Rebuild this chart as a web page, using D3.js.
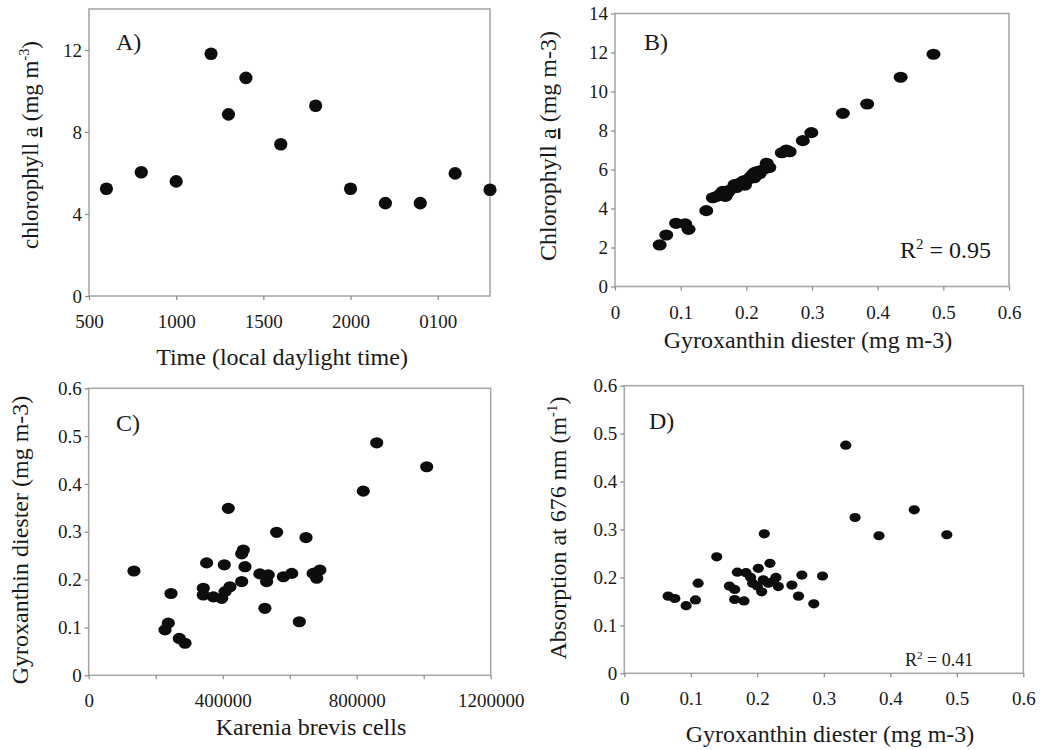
<!DOCTYPE html>
<html>
<head>
<meta charset="utf-8">
<title>Gyroxanthin panels</title>
<script src="https://cdn.jsdelivr.net/npm/d3@7"></script>
</head>
<body style="margin:0; background:#fff">
<svg id="chart" width="1041" height="750"></svg>
<script>
const FONT = '"Liberation Serif", "Times New Roman"';

// A) chlorophyll a over the day, time in hours (24+ = next day)
const timeA = [6, 8, 10, 12, 13, 14, 16, 18, 20, 22, 24, 26, 28];
const chlA = [5.23, 6.04, 5.59, 11.82, 8.86, 10.64, 7.40, 9.28, 5.23, 4.53, 4.53, 5.98, 5.18];
const timeTicks = [5, 10, 15, 20, 25];
const timeTickLabels = ["500", "1000", "1500", "2000", "0100"];
const chlTicksA = [0, 4, 8, 12];

// B) chlorophyll a vs gyroxanthin diester
const gyroB = [0.068, 0.078, 0.093, 0.107, 0.112, 0.139, 0.149, 0.155, 0.161, 0.164,
    0.168, 0.171, 0.175, 0.182, 0.185, 0.190, 0.196, 0.198, 0.203, 0.206,
    0.210, 0.212, 0.213, 0.218, 0.220, 0.227, 0.231, 0.235, 0.254, 0.261,
    0.266, 0.286, 0.299, 0.347, 0.384, 0.435, 0.485];
const chlB = [2.13, 2.64, 3.24, 3.21, 2.93, 3.89, 4.55, 4.62, 4.75, 4.88,
    4.62, 4.78, 4.95, 5.22, 5.08, 5.30, 5.42, 5.20, 5.50, 5.60,
    5.75, 5.58, 5.85, 5.90, 5.78, 6.02, 6.32, 6.10, 6.86, 7.00,
    6.91, 7.48, 7.89, 8.88, 9.36, 10.73, 11.91];
const gyroTicks = [0, 0.1, 0.2, 0.3, 0.4, 0.5, 0.6];
const gyroTickLabels = ["0", "0.1", "0.2", "0.3", "0.4", "0.5", "0.6"];
const chlTicksB = [0, 2, 4, 6, 8, 10, 12, 14];

// C) gyroxanthin diester vs Karenia brevis cells
const cellsC = [135000, 227800, 237600, 245700, 270400, 287500, 342000, 342000, 352000, 372000,
    397000, 404800, 407000, 416700, 421800, 456700, 456700, 461500, 466600, 511000,
    526000, 531000, 536000, 561000, 581000, 606000, 628700, 648700, 670000, 680600,
    690000, 819700, 859700, 1009000];
const gyroC = [0.218, 0.095, 0.109, 0.171, 0.077, 0.067, 0.182, 0.168, 0.235, 0.164,
    0.161, 0.231, 0.175, 0.349, 0.185, 0.196, 0.254, 0.262, 0.227, 0.212,
    0.140, 0.196, 0.210, 0.299, 0.206, 0.213, 0.112, 0.288, 0.213, 0.203,
    0.220, 0.385, 0.486, 0.436];
const cellTicks = [0, 200000, 400000, 600000, 800000, 1000000, 1200000];
const cellTickLabels = ["0", "", "400000", "", "800000", "", "1200000"];

// D) absorption at 676 nm vs gyroxanthin diester
const gyroD = [0.066, 0.076, 0.093, 0.107, 0.111, 0.139, 0.158, 0.166, 0.166, 0.180,
    0.170, 0.183, 0.193, 0.2015, 0.219, 0.209, 0.2066, 0.2165, 0.228, 0.2316,
    0.252, 0.267, 0.262, 0.298, 0.285, 0.2105, 0.333, 0.347, 0.383, 0.436,
    0.485, 0.200, 0.224, 0.190];
const absD = [0.161, 0.156, 0.141, 0.153, 0.188, 0.243, 0.182, 0.175, 0.154, 0.151,
    0.211, 0.210, 0.188, 0.219, 0.2295, 0.195, 0.170, 0.188, 0.200, 0.181,
    0.184, 0.205, 0.161, 0.203, 0.145, 0.291, 0.476, 0.325, 0.287, 0.341,
    0.289, 0.182, 0.192, 0.200];
const fracTicks = [0, 0.1, 0.2, 0.3, 0.4, 0.5, 0.6];
const fracTickLabels = ["0", "0.1", "0.2", "0.3", "0.4", "0.5", "0.6"];

const svg = d3.select("#chart");

// text with underline / superscript pieces
function richText(g, x, y, size, parts, opts = {}) {
    const t = g.append("text")
        .style("font-family", FONT)
        .style("font-size", size + "px")
        .attr("fill", "#1a1a1a")
        .attr("text-anchor", opts.anchor || "middle")
        .attr("transform", `translate(${x},${y})` + (opts.rotate ? " rotate(-90)" : ""));
    let raised = false;
    parts.forEach(p => {
        const s = t.append("tspan").text(p.t);
        if (p.u) s.style("text-decoration", "underline");
        if (p.sup) {
            s.style("font-size", (size * 0.62) + "px").attr("dy", -size * 0.38);
            raised = true;
        } else if (raised) {
            s.attr("dy", size * 0.38);
            raised = false;
        }
    });
    return t;
}

function panel(cfg) {
    const g = svg.append("g");
    const x = d3.scaleLinear().domain(cfg.xDomain).range([cfg.left, cfg.right]);
    const y = d3.scaleLinear().domain(cfg.yDomain).range([cfg.bottom, cfg.top]);

    g.append("rect")
        .attr("x", cfg.left).attr("y", cfg.top)
        .attr("width", cfg.right - cfg.left).attr("height", cfg.bottom - cfg.top)
        .attr("fill", "none").attr("stroke", "#a9a9a9").attr("stroke-width", 1.6);

    const xAxis = g.append("g")
        .attr("transform", `translate(0,${cfg.bottom})`)
        .call(d3.axisBottom(x).tickValues(cfg.xTicks)
            .tickFormat((d, i) => cfg.xTickLabels[i]).tickSize(4).tickSizeOuter(0));
    const yAxis = g.append("g")
        .attr("transform", `translate(${cfg.left},0)`)
        .call(d3.axisLeft(y).tickValues(cfg.yTicks)
            .tickFormat((d, i) => cfg.yTickLabels[i]).tickSize(4).tickPadding(3).tickSizeOuter(0));

    [xAxis, yAxis].forEach(a => {
        a.select(".domain").remove();
        a.selectAll(".tick line").attr("stroke", "#8a8a8a").attr("stroke-width", 1.2);
        a.selectAll(".tick text")
            .style("font-family", FONT).style("font-size", "19px").attr("fill", "#1a1a1a");
    });
    xAxis.selectAll(".tick text").attr("y", 32).attr("dy", 0);

    g.selectAll("ellipse.pt")
        .data(cfg.xs.map((v, i) => [v, cfg.ys[i]]))
        .enter().append("ellipse")
        .attr("class", "pt")
        .attr("cx", d => x(d[0]))
        .attr("cy", d => y(d[1]))
        .attr("rx", cfg.rx).attr("ry", cfg.ry)
        .attr("fill", "#0d0d0d");

    richText(g, cfg.tag[0], cfg.tag[1], 24, [{t: cfg.tag[2]}], {anchor: "start"});
    richText(g, cfg.xTitlePos[0], cfg.xTitlePos[1], 24, cfg.xTitle);
    richText(g, cfg.yTitlePos[0], cfg.yTitlePos[1], cfg.yTitleSize || 24, cfg.yTitle, {rotate: true});
    return g;
}

panel({
    left: 89, right: 490, top: 9, bottom: 296,
    xDomain: [5, 28], yDomain: [0, 14],
    xTicks: timeTicks, xTickLabels: timeTickLabels,
    yTicks: chlTicksA, yTickLabels: chlTicksA.map(String),
    xs: timeA, ys: chlA, rx: 6.6, ry: 6.3,
    tag: [116, 50, "A)"],
    xTitlePos: [282, 365], xTitle: [{t: "Time (local daylight time)"}],
    yTitlePos: [38, 145], yTitleSize: 23,
    yTitle: [{t: "chlorophyll "}, {t: "a", u: true}, {t: " (mg m"}, {t: "-3", sup: true}, {t: ")"}]
});

const gB = panel({
    left: 615, right: 1009, top: 13.5, bottom: 286.5,
    xDomain: [0, 0.6], yDomain: [0, 14],
    xTicks: gyroTicks, xTickLabels: gyroTickLabels,
    yTicks: chlTicksB, yTickLabels: chlTicksB.map(String),
    xs: gyroB, ys: chlB, rx: 7, ry: 5.6,
    tag: [644, 50, "B)"],
    xTitlePos: [808, 348], xTitle: [{t: "Gyroxanthin diester (mg m-3)"}],
    yTitlePos: [556, 146],
    yTitle: [{t: "Chlorophyll "}, {t: "a", u: true}, {t: " (mg m-3)"}]
});
richText(gB, 900, 258, 24, [{t: "R"}, {t: "2", sup: true}, {t: " = 0.95"}], {anchor: "start"});

panel({
    left: 88.7, right: 490.7, top: 388.3, bottom: 675.3,
    xDomain: [0, 1200000], yDomain: [0, 0.6],
    xTicks: cellTicks, xTickLabels: cellTickLabels,
    yTicks: fracTicks, yTickLabels: fracTickLabels,
    xs: cellsC, ys: gyroC, rx: 6.6, ry: 5.6,
    tag: [116, 431, "C)"],
    xTitlePos: [311, 735], xTitle: [{t: "Karenia brevis cells"}],
    yTitlePos: [28, 540],
    yTitle: [{t: "Gyroxanthin diester (mg m-3)"}]
});

const gD = panel({
    left: 624.3, right: 1023.3, top: 385.7, bottom: 673.3,
    xDomain: [0, 0.6], yDomain: [0, 0.6],
    xTicks: fracTicks, xTickLabels: fracTickLabels,
    yTicks: fracTicks, yTickLabels: fracTickLabels,
    xs: gyroD, ys: absD, rx: 5.6, ry: 4.6,
    tag: [649, 429, "D)"],
    xTitlePos: [830, 742], xTitle: [{t: "Gyroxanthin diester (mg m-3)"}],
    yTitlePos: [566, 528],
    yTitle: [{t: "Absorption at 676 nm (m"}, {t: "-1", sup: true}, {t: ")"}]
});
richText(gD, 905, 666, 18, [{t: "R"}, {t: "2", sup: true}, {t: " = 0.41"}], {anchor: "start"});
</script>
</body>
</html>
